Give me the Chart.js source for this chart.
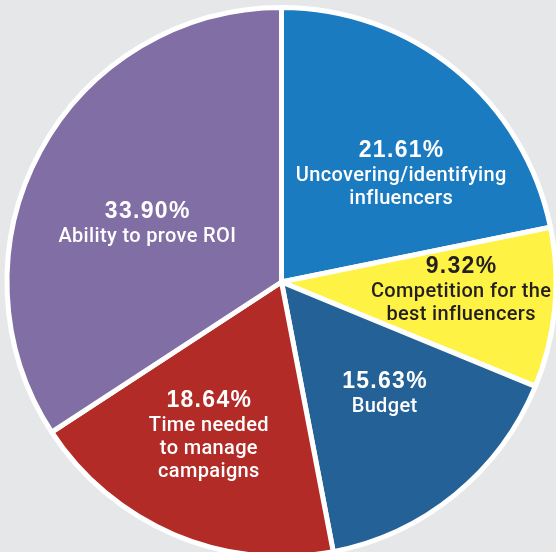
<!DOCTYPE html>
<html>
<head>
<meta charset="utf-8">
<script src="https://cdn.jsdelivr.net/npm/chart.js@4"></script>
<style>
  html, body { margin: 0; padding: 0; background: #e6e7e8; overflow: hidden; }
  #wrap { position: absolute; left: 0; top: 0; width: 556px; height: 552px; }
</style>
</head>
<body>
<div id="wrap"><canvas id="c" width="556" height="552"></canvas></div>
<script>
// ---- data ----
const categories = [
  ["Uncovering/identifying", "influencers"],
  ["Competition for the", "best influencers"],
  ["Budget"],
  ["Time needed", "to manage", "campaigns"],
  ["Ability to prove ROI"]
];
const values = [21.61, 9.32, 15.63, 18.64, 33.90];

// ---- styles ----
const sliceColors = ["#1b7bc0", "#fef345", "#246196", "#b22b27", "#806ea5"];
const textColors = ["#ffffff", "#231f20", "#ffffff", "#ffffff", "#ffffff"];
// label placement: [angle shift from slice middle (deg), fraction of radius]
const labelPlacement = [[8.2, 0.591], [-3.5, 0.654], [-3.9, 0.548], [2.6, 0.614], [-4.2, 0.537]];

const sliceLabels = {
  id: 'sliceLabels',
  afterDatasetsDraw(chart) {
    const ctx = chart.ctx;
    const meta = chart.getDatasetMeta(0);
    meta.data.forEach((arc, i) => {
      const p = arc.getProps(['x', 'y', 'startAngle', 'endAngle', 'outerRadius'], true);
      const mid = (p.startAngle + p.endAngle) / 2 + labelPlacement[i][0] * Math.PI / 180;
      const r = p.outerRadius * labelPlacement[i][1];
      const cx = p.x + Math.cos(mid) * r;
      const cy = p.y + Math.sin(mid) * r;
      const lines = categories[i];
      const cap = 16.5, gap1 = 24, pitch = 23;
      const H = cap + gap1 + pitch * (lines.length - 1);
      const y0 = cy - H / 2 + cap;
      ctx.save();
      ctx.fillStyle = textColors[i];
      ctx.textAlign = 'center';
      ctx.textBaseline = 'alphabetic';
      ctx.font = 'bold 23px "Liberation Sans", Arial, sans-serif';
      ctx.letterSpacing = '1.3px';
      ctx.fillText(values[i].toFixed(2) + '%', cx + 0.65, y0);
      ctx.font = '500 20px Roboto, "Liberation Sans", sans-serif';
      ctx.letterSpacing = '0.35px';
      lines.forEach((ln, j) => {
        ctx.fillText(ln, cx + 0.2, y0 + gap1 + pitch * j);
      });
      ctx.restore();
    });
  }
};

new Chart(document.getElementById('c'), {
  type: 'pie',
  data: {
    labels: categories,
    datasets: [{
      data: values,
      backgroundColor: sliceColors,
      borderColor: '#ffffff',
      borderWidth: 5,
      hoverBorderWidth: 5,
      clip: false
    }]
  },
  options: {
    responsive: false,
    animation: false,
    events: [],
    radius: 274.5,
    layout: { padding: { left: 7, right: 0, top: 12, bottom: 0 } },
    plugins: {
      legend: { display: false },
      tooltip: { enabled: false }
    }
  },
  plugins: [sliceLabels]
});
</script>
</body>
</html>
